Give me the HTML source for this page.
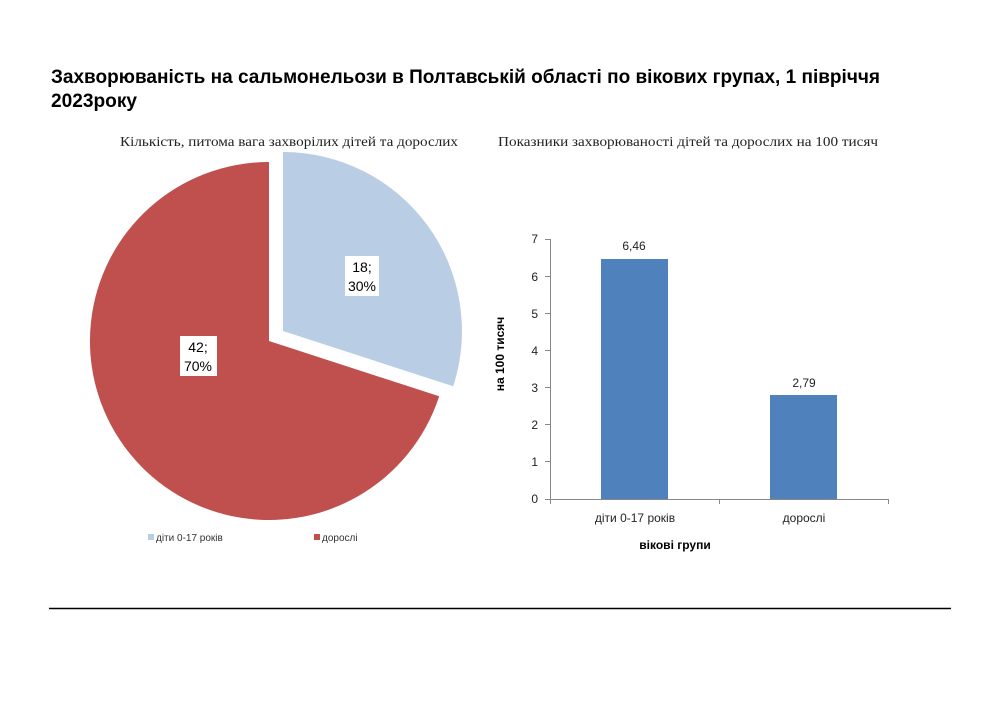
<!DOCTYPE html>
<html><head><meta charset="utf-8"><style>
body{margin:0;background:#fff;}
</style></head><body>
<svg width="1000" height="708" viewBox="0 0 1000 708" xmlns="http://www.w3.org/2000/svg">
<rect width="1000" height="708" fill="#fff"/>
<g font-family="Liberation Sans, sans-serif" font-weight="bold" font-size="19" fill="#000">
<text x="51" y="83" textLength="829" lengthAdjust="spacingAndGlyphs">Захворюваність на сальмонельози в Полтавській області по вікових групах, 1 півріччя</text>
<text x="51" y="107" textLength="86" lengthAdjust="spacingAndGlyphs">2023року</text>
</g>
<g font-family="Liberation Serif, serif" font-size="13.5" fill="#222">
<text x="120" y="146" textLength="338" lengthAdjust="spacingAndGlyphs">Кількість, питома вага захворілих дітей та дорослих</text>
<text x="498" y="146" textLength="380" lengthAdjust="spacingAndGlyphs">Показники захворюваності дітей та дорослих на 100 тисяч</text>
</g>
<!-- pie -->
<path d="M269,341 L269,162 A179,179 0 1 0 439.2,396.3 Z" fill="#c0504d"/>
<path d="M283,331 L283,152 A179,179 0 0 1 453.2,386.3 Z" fill="#b9cde5"/>
<rect x="345" y="256" width="34" height="40" fill="#fff"/>
<g font-family="Liberation Sans, sans-serif" font-size="14" fill="#000" text-anchor="middle">
<text x="362" y="272">18;</text><text x="362" y="291">30%</text>
</g>
<rect x="180" y="336" width="37" height="40" fill="#fff"/>
<g font-family="Liberation Sans, sans-serif" font-size="14" fill="#000" text-anchor="middle">
<text x="198" y="352">42;</text><text x="198" y="371">70%</text>
</g>
<rect x="148" y="534" width="6" height="6" fill="#b9cde5"/>
<rect x="314" y="534" width="6" height="6" fill="#c0504d"/>
<g font-family="Liberation Sans, sans-serif" font-size="10" fill="#333">
<text x="156" y="541">діти 0-17 років</text>
<text x="322" y="541">дорослі</text>
</g>
<!-- bars -->
<g stroke="#888" stroke-width="1">
<line x1="550.5" y1="239" x2="550.5" y2="499"/>
<line x1="550" y1="499.5" x2="888" y2="499.5"/>
<line x1="545" y1="239.5" x2="550" y2="239.5"/><line x1="545" y1="276.5" x2="550" y2="276.5"/>
<line x1="545" y1="313.5" x2="550" y2="313.5"/><line x1="545" y1="350.5" x2="550" y2="350.5"/>
<line x1="545" y1="387.5" x2="550" y2="387.5"/><line x1="545" y1="424.5" x2="550" y2="424.5"/>
<line x1="545" y1="461.5" x2="550" y2="461.5"/><line x1="545" y1="499.5" x2="550" y2="499.5"/>
<line x1="719.5" y1="499" x2="719.5" y2="504"/><line x1="888.5" y1="499" x2="888.5" y2="504"/>
<line x1="550.5" y1="499" x2="550.5" y2="504"/>
</g>
<rect x="601" y="259" width="67" height="240" fill="#4f81bd"/>
<rect x="770" y="395" width="67" height="104" fill="#4f81bd"/>
<g font-family="Liberation Sans, sans-serif" font-size="12" fill="#222" text-anchor="end">
<text x="538" y="243">7</text><text x="538" y="281">6</text><text x="538" y="318">5</text>
<text x="538" y="355">4</text><text x="538" y="392">3</text><text x="538" y="429">2</text>
<text x="538" y="466">1</text><text x="538" y="503">0</text>
</g>
<g font-family="Liberation Sans, sans-serif" font-size="12" fill="#222" text-anchor="middle">
<text x="634" y="250">6,46</text><text x="804" y="387">2,79</text>
<text x="635" y="522">діти 0-17 років</text><text x="804" y="522">дорослі</text>
</g>
<text x="675" y="549" font-family="Liberation Sans, sans-serif" font-size="12" font-weight="bold" text-anchor="middle" fill="#000">вікові групи</text>
<text transform="translate(504,354) rotate(-90)" font-family="Liberation Sans, sans-serif" font-size="12" font-weight="bold" text-anchor="middle" fill="#000">на 100 тисяч</text>
<line x1="49" y1="608.5" x2="951" y2="608.5" stroke="#000" stroke-width="1.5"/>
</svg>
</body></html>
